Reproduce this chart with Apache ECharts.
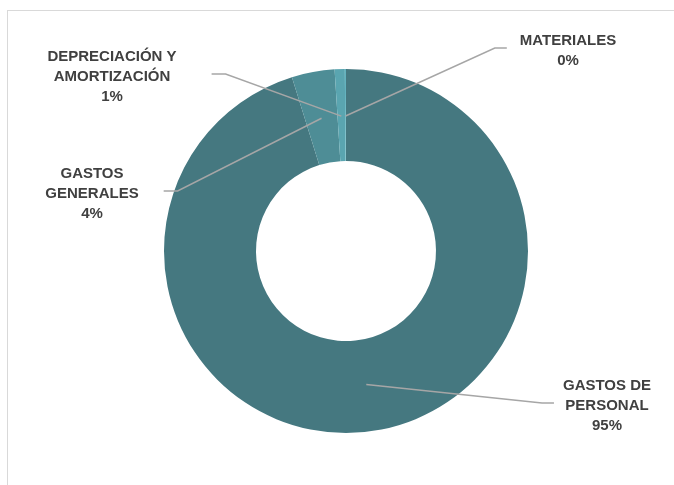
<!DOCTYPE html>
<html>
<head>
<meta charset="utf-8">
<script src="https://cdn.jsdelivr.net/npm/echarts@6/dist/echarts.min.js"></script>
<style>
html,body{margin:0;padding:0;background:#fff;}
#frame{position:absolute;left:7px;top:10px;width:680px;height:490px;border:1px solid #d9d9d9;box-sizing:border-box;}
#chart{position:absolute;left:0;top:0;width:674px;height:485px;}
</style>
</head>
<body>
<div id="frame"></div>
<div id="chart"></div>
<script>
// Data
const categories = ['GASTOS DE\nPERSONAL', 'GASTOS\nGENERALES', 'DEPRECIACIÓN Y\nAMORTIZACIÓN', 'MATERIALES'];
const values = [95.2, 3.8, 0.9, 0.1];
const percentLabels = ['95%', '4%', '1%', '0%'];

// Styles / layout
const colors = ['#457880', '#4e8d96', '#5aa5b0', '#63b3bf'];
const labelPos = [[607, 406, 'R', 9], [92, 194, 'L', 25], [112, 77, 'L', 35], [568, 51, 'R', 13]];

const chart = echarts.init(document.getElementById('chart'), null, {renderer: 'canvas'});
const center = [346, 251];

const pieData = categories.map((c, i) => ({name: c, value: values[i], itemStyle: {color: colors[i]}}));
const labelData = categories.map((c, i) => ({name: c, value: values[i]}));

chart.setOption({
  animation: false,
  series: [
    {
      type: 'pie',
      z: 2,
      center: center,
      radius: [90, 182],
      startAngle: 90,
      clockwise: true,
      silent: true,
      label: {show: false},
      labelLine: {show: false},
      data: pieData
    },
    {
      type: 'pie',
      z: 10,
      center: center,
      radius: [0, 135],
      startAngle: 90,
      clockwise: true,
      silent: true,
      avoidLabelOverlap: false,
      itemStyle: {color: 'rgba(0,0,0,0)'},
      label: {
        show: true,
        position: 'outside',
        formatter: p => p.name + '\n' + percentLabels[p.dataIndex],
        fontFamily: 'Liberation Sans, Arial, sans-serif',
        fontWeight: 'bold',
        fontSize: 15,
        lineHeight: 20,
        color: '#404040',
        align: 'center'
      },
      labelLine: {show: true, lineStyle: {color: '#a6a6a6', width: 1.5}, smooth: false},
      labelLayout: function (params) {
        const i = params.dataIndex;
        const lp = labelPos[i];
        const w = params.labelRect.width;
        const start = params.labelLinePoints ? params.labelLinePoints[0] : center;
        let endX, midX;
        if (lp[2] === 'R') {
          endX = lp[0] - w / 2 - lp[3];
          midX = endX - 12;
        } else {
          endX = lp[0] + w / 2 + lp[3];
          midX = endX + 14;
        }
        const y = lp[1] - 3;
        return {
          x: lp[0],
          y: lp[1],
          align: 'center',
          verticalAlign: 'middle',
          labelLinePoints: [start, [midX, y], [endX, y]]
        };
      },
      data: labelData
    }
  ]
});
</script>
</body>
</html>
